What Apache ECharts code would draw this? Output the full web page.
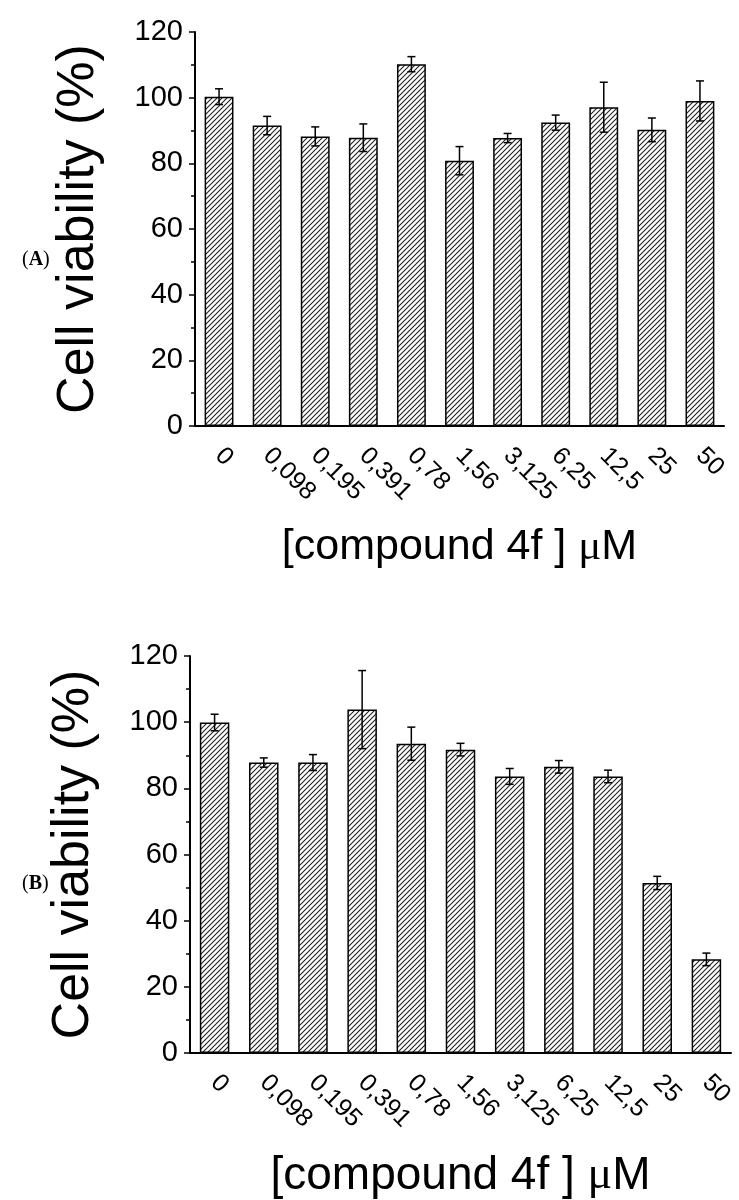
<!DOCTYPE html>
<html><head><meta charset="utf-8">
<script src="https://cdn.jsdelivr.net/npm/echarts@6/dist/echarts.min.js"></script>
<style>html,body{margin:0;padding:0;background:#fff}#c{width:739px;height:1200px}</style>
</head><body><div id="c"></div>
<script>
// ---- data ----
const categories = ['0','0,098','0,195','0,391','0,78','1,56','3,125','6,25','12,5','25','50'];
const viabilityA = [100.3, 91.5, 88.2, 87.8, 110.2, 80.8, 87.7, 92.4, 97.1, 90.2, 99.0];
const errorA     = [2.4, 2.8, 2.9, 4.2, 2.3, 4.3, 1.4, 2.3, 7.6, 3.6, 6.1];
const viabilityB = [99.9, 87.8, 87.8, 103.8, 93.5, 91.7, 83.6, 86.5, 83.6, 51.4, 28.3];
const errorB     = [2.5, 1.4, 2.4, 11.8, 5.0, 1.9, 2.4, 1.9, 1.9, 2.0, 1.9];
const yTicks = [0, 20, 40, 60, 80, 100, 120];
const yTitle = 'Cell viability (%)';
const xTitle = '[compound 4f ] {mu|μ}M';
const panelLabels = ['A', 'B'];

// ---- hatch pattern ----
const T = 5;
const tile = document.createElement('canvas');
tile.width = T; tile.height = T;
const g = tile.getContext('2d');
g.fillStyle = '#fff'; g.fillRect(0, 0, T, T);
g.strokeStyle = '#222'; g.lineWidth = 1.1;
g.beginPath();
g.moveTo(0, T); g.lineTo(T, 0);
g.moveTo(-1, 1); g.lineTo(1, -1);
g.moveTo(T - 1, T + 1); g.lineTo(T + 1, T - 1);
g.stroke();
const hatch = { image: tile, repeat: 'repeat' };

const FONT = '"Liberation Sans", Arial, sans-serif';

function errData(vals, errs) {
  return vals.map((v, i) => [i, v - errs[i], v + errs[i]]);
}
function errRender(params, api) {
  const x = api.value(0);
  const lo = api.coord([x, api.value(1)]);
  const hi = api.coord([x, api.value(2)]);
  const hw = 4;
  const st = { stroke: '#000', lineWidth: 1.5 };
  return { type: 'group', children: [
    { type: 'line', shape: { x1: hi[0], y1: hi[1], x2: lo[0], y2: lo[1] }, style: st },
    { type: 'line', shape: { x1: hi[0] - hw, y1: hi[1], x2: hi[0] + hw, y2: hi[1] }, style: st },
    { type: 'line', shape: { x1: lo[0] - hw, y1: lo[1], x2: lo[0] + hw, y2: lo[1] }, style: st }
  ]};
}

function xAxisCfg(idx, nameGap, nameSize) {
  return {
    type: 'category', gridIndex: idx, data: categories,
    axisLine: { lineStyle: { color: '#000', width: 2 } },
    axisTick: { show: false },
    axisLabel: { rotate: -45, fontSize: 25, color: '#000', fontFamily: FONT, margin: 26, interval: 0 },
    name: xTitle, nameLocation: 'middle', nameGap: nameGap,
    nameTextStyle: { fontSize: nameSize, color: '#000', fontFamily: FONT,
      rich: { mu: { fontSize: nameSize, fontFamily: '"Liberation Serif", "DejaVu Serif", serif', color: '#000' } } }
  };
}
function yAxisCfg(idx) {
  return {
    type: 'value', gridIndex: idx, min: yTicks[0], max: yTicks[yTicks.length - 1], interval: yTicks[1] - yTicks[0],
    axisLine: { show: true, lineStyle: { color: '#000', width: 2 } },
    axisTick: { show: true, inside: false, length: 6, lineStyle: { color: '#000', width: 1.5 } },
    minorTick: { show: true, splitNumber: 2, length: 4, lineStyle: { color: '#000', width: 1.5 } },
    splitLine: { show: false },
    axisLabel: { fontSize: 29, color: '#000', fontFamily: FONT, margin: 12 },
    name: yTitle, nameLocation: 'middle', nameRotate: 90, nameGap: 90,
    nameTextStyle: { fontSize: 52, color: '#000', fontFamily: FONT }
  };
}
function barSeries(idx, vals) {
  return { type: 'bar', xAxisIndex: idx, yAxisIndex: idx, data: vals, barWidth: '60%',
    itemStyle: { color: hatch, borderColor: '#000', borderWidth: 1.5 }, silent: true };
}
function errSeries(idx, vals, errs) {
  return { type: 'custom', xAxisIndex: idx, yAxisIndex: idx, data: errData(vals, errs),
    renderItem: errRender, z: 10, silent: true };
}

const chart = echarts.init(document.getElementById('c'), null, { renderer: 'canvas' });
chart.setOption({
  animation: false,
  backgroundColor: '#fff',
  grid: [
    { left: 195, top: 32, width: 529, height: 394 },
    { left: 190, top: 656, width: 541, height: 402 }
  ],
  xAxis: [xAxisCfg(0, 100, 43), xAxisCfg(1, 100, 46)],
  yAxis: [yAxisCfg(0), yAxisCfg(1)],
  series: [
    barSeries(0, viabilityA), errSeries(0, viabilityA, errorA),
    barSeries(1, viabilityB), errSeries(1, viabilityB, errorB)
  ],
  graphic: [
    { type: 'text', left: 22, top: 250, style: { text: '(' + '{b|' + panelLabels[0] + '})', fill: '#000',
      font: '20px "Liberation Serif", serif', rich: { b: { fontWeight: 'bold', fontSize: 20, fontFamily: '"Liberation Serif", serif' } } } },
    { type: 'text', left: 22, top: 874, style: { text: '(' + '{b|' + panelLabels[1] + '})', fill: '#000',
      font: '20px "Liberation Serif", serif', rich: { b: { fontWeight: 'bold', fontSize: 20, fontFamily: '"Liberation Serif", serif' } } } }
  ]
});
</script>
</body></html>
